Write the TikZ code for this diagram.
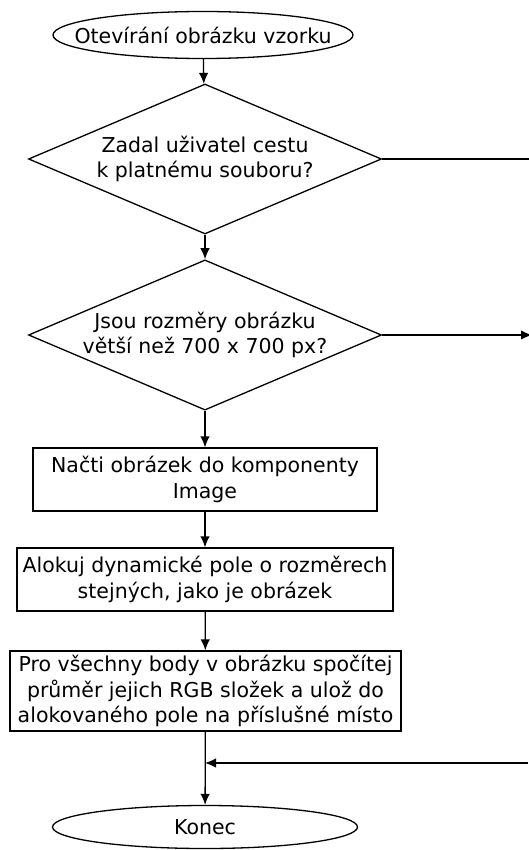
\documentclass[tikz,border=0pt]{standalone}
\usepackage{fontspec}
\setmainfont{DejaVu Sans}
\usetikzlibrary{arrows.meta,shapes.geometric}

\begin{document}
\begin{tikzpicture}[x=1pt,y=-1pt,
    box/.style={draw,line width=1.3pt,align=center,inner sep=0pt,
      font=\fontsize{20.5}{25.5}\selectfont},
    terminal/.style={box,ellipse},
    decision/.style={box,diamond,aspect=2.35,minimum width=353,minimum height=150},
    process/.style={box,rectangle},
    flow/.style={line width=1.3pt,-{Latex[length=11pt,width=9.5pt]}}]
  \useasboundingbox (0,0) rectangle (528,850);
  % blocks, top to bottom
  \node[terminal,inner xsep=-25pt,minimum width=300,minimum height=47] (start) at (203,35) {Otevírání obrázku vzorku};
  \node[decision] (ask1) at (205,159) {Zadal uživatel cestu\\k platnému souboru?};
  \node[decision] (ask2) at (205,335) {Jsou rozměry obrázku\\větší než 700 x 700 px?};
  \node[process,minimum width=344,minimum height=63] (load) at (205,479.5) {Načti obrázek do komponenty\\Image};
  \node[process,minimum width=376,minimum height=63] (alloc) at (205,579.5) {Alokuj dynamické pole o rozměrech\\stejných, jako je obrázek};
  \node[process,minimum width=391,minimum height=80] (avg) at (205.5,691) {Pro všechny body v obrázku spočítej\\průměr jejich RGB složek a ulož do\\alokovaného pole na příslušné místo};
  \node[terminal,minimum width=305,minimum height=43] (stop) at (205,827) {Konec};
  % free ends at the right edge
  \coordinate (out1) at (545,159);
  \coordinate (out2) at (532,335);
  \coordinate (back) at (528,763);
  \coordinate (join) at (205,763);
  % connectors
  \draw[flow] (start) -- (ask1);
  \draw[flow] (ask1) -- (ask2);
  \draw[flow] (ask2) -- (load);
  \draw[flow] (load) -- (alloc);
  \draw[flow] (alloc) -- (avg);
  \draw[flow] (avg) -- (stop);
  \draw[flow] (ask1.east) -- (out1);
  \draw[flow] (ask2.east) -- (out2);
  \draw[flow] (back) -- (join);
\end{tikzpicture}
\end{document}
